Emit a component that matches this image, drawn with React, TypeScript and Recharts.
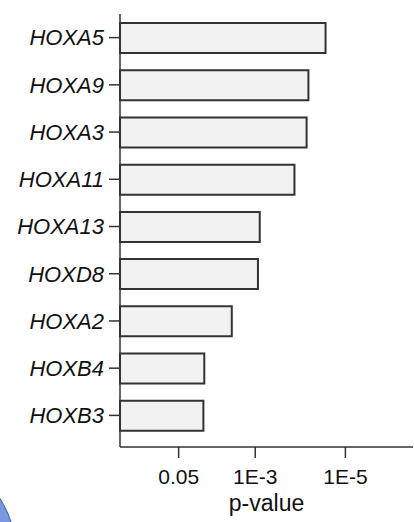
import React from 'react';
import { BarChart, Bar, XAxis, YAxis } from 'recharts';

const genes = ['HOXA5', 'HOXA9', 'HOXA3', 'HOXA11', 'HOXA13', 'HOXD8', 'HOXA2', 'HOXB4', 'HOXB3'];
const negLog10P = [4.56, 4.18, 4.14, 3.87, 3.1, 3.06, 2.48, 1.87, 1.85];
const tickPValues = [0.05, 1e-3, 1e-5];
const tickLabels = ['0.05', '1E-3', '1E-5'];

const data = genes.map((g, i) => ({ gene: g, value: negLog10P[i] }));
const tickPositions = tickPValues.map((p) => -Math.log10(p));

const fmt = (v: number) => {
  const idx = tickPositions.findIndex((t) => Math.abs(t - v) < 1e-6);
  return idx >= 0 ? tickLabels[idx] : String(v);
};

const FONT = '"Liberation Sans", Arial, sans-serif';
const AXIS = '#333333';

export default function App() {
  return (
    <div style={{ position: 'absolute', left: 0, top: 0, width: 414, height: 522, overflow: 'hidden', background: '#ffffff' }}>
      <div
        style={{
          position: 'absolute',
          left: -218,
          top: 442,
          width: 236,
          height: 236,
          borderRadius: '50%',
          background: '#7a98de',
          border: '1.5px solid #3e5fb4',
          boxSizing: 'border-box',
        }}
      />
      <div style={{ position: 'absolute', left: 0, top: 0 }}>
        <BarChart
          width={414}
          height={522}
          data={data}
          layout="vertical"
          margin={{ top: 14, right: 1, bottom: 0, left: 0 }}
        >
          <XAxis
            type="number"
            dataKey="value"
            domain={[0, 6.5]}
            ticks={tickPositions}
            tickFormatter={fmt}
            height={75}
            tickSize={11}
            tickMargin={11}
            axisLine={{ stroke: AXIS, strokeWidth: 1.5 }}
            tickLine={{ stroke: AXIS, strokeWidth: 1.5 }}
            tick={{ fill: '#111111', fontSize: 21, fontFamily: FONT }}
            label={{ value: 'p-value', position: 'insideBottom', offset: 11, fill: '#111111', fontSize: 23, fontFamily: FONT }}
          />
          <YAxis
            type="category"
            dataKey="gene"
            width={120}
            padding={{ top: 0, bottom: 8 }}
            tickSize={11}
            tickMargin={5}
            axisLine={{ stroke: AXIS, strokeWidth: 1.5 }}
            tickLine={{ stroke: AXIS, strokeWidth: 1.5 }}
            tick={{ fill: '#111111', fontSize: 22, fontFamily: FONT, fontStyle: 'italic' }}
          />
          <Bar dataKey="value" barSize={30} fill="#f2f2f2" stroke="#333333" strokeWidth={2} isAnimationActive={false} />
        </BarChart>
      </div>
    </div>
  );
}
